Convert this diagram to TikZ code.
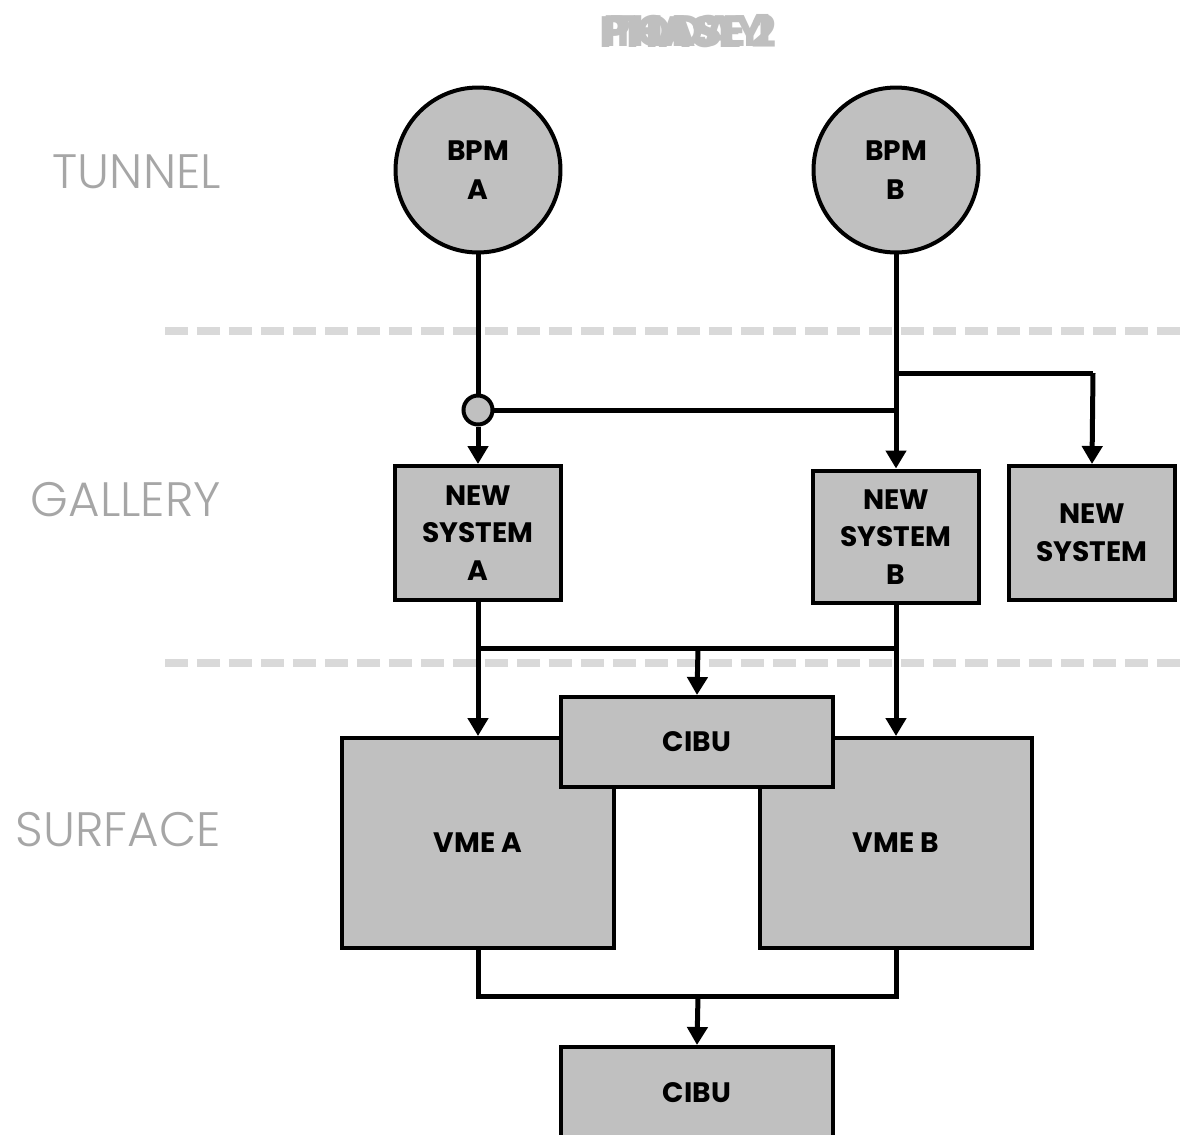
\documentclass[tikz,border=0pt]{standalone}
\usepackage{fontspec}
\setmainfont{Poppins}
\newfontfamily\lightfont{Poppins Light}
\usetikzlibrary{arrows.meta}
\definecolor{boxgray}{HTML}{C0C0C0}
\definecolor{dashgray}{HTML}{D9D9D9}
\definecolor{labgray}{HTML}{A6A6A6}
\definecolor{titlegray}{HTML}{BFBFBF}
\begin{document}
\begin{tikzpicture}[x=0.02cm,y=-0.02cm,
  box/.style={draw=black,line width=0.08cm,fill=boxgray,inner sep=0pt,
    font=\fontsize{16}{21.5}\selectfont\bfseries,align=center},
  bpm/.style={draw=black,line width=0.08cm,fill=boxgray,circle,inner sep=0pt,
    minimum size=3.3cm,font=\fontsize{16}{22.5}\selectfont\bfseries,align=center},
  conn/.style={line width=0.1cm,draw=black},
  arr/.style={conn,-{Triangle[length=0.36cm,width=0.4cm]}},
  zone/.style={anchor=east,text=labgray,font=\fontsize{27.5}{32}\selectfont\lightfont},
  sep/.style={line width=0.16cm,draw=dashgray,dash pattern=on 0.46cm off 0.18cm},
  ttl/.style={text=titlegray,font=\fontsize{25}{30}\selectfont\bfseries}]
\useasboundingbox (0,0) rectangle (1188,1134);
\clip (0,0) rectangle (1188,1134);
% title
\node[ttl] (t1) at (688,31) {TODAY};
\node[ttl] (t2) at (688,31) {PHASE 1};
\node[ttl] (t3) at (688,31) {PHASE 2};
% zone labels
\node[zone] (tun) at (227,172) {TUNNEL};
\node[zone] (gal) at (227,500) {GALLERY};
\node[zone] (sur) at (227,830) {SURFACE};
% separators
\draw[sep] (165,331) -- (1188,331);
\draw[sep] (165,663) -- (1188,663);
% nodes
\node[bpm] (bpma) at (478,170) {BPM\\A};
\node[bpm] (bpmb) at (896,170) {BPM\\B};
\node[box,minimum width=3.32cm,minimum height=2.68cm] (nsa) at (478,533) {NEW\\SYSTEM\\A};
\node[box,minimum width=3.32cm,minimum height=2.66cm] (nsb) at (896,537) {NEW\\SYSTEM\\B};
\node[box,minimum width=3.32cm,minimum height=2.68cm] (ns) at (1092,533) {NEW\\SYSTEM};
\node[box,minimum width=5.46cm,minimum height=4.2cm] (vmea) at (478,843) {VME A};
\node[box,minimum width=5.46cm,minimum height=4.2cm] (vmeb) at (896,843) {VME B};
\node[box,minimum width=5.44cm,minimum height=1.8cm] (cibu1) at (697,742) {CIBU};
\node[box,minimum width=5.44cm,minimum height=2.4cm,anchor=north] (cibu2) at (697,1045) {};
\node[font=\fontsize{16}{21.5}\selectfont\bfseries] (cibu2t) at (697,1093) {CIBU};
% splitter
\node[draw=black,line width=0.08cm,fill=boxgray,circle,inner sep=0pt,minimum size=0.58cm] (split) at (478,410) {};
% coordinates
\coordinate (jb) at (896,410);
\coordinate (jb2) at (896,373);
\coordinate (jr) at (1093,373);
\coordinate (ja) at (478,648);
\coordinate (jbb) at (896,648);
\coordinate (jm) at (698,648);
\coordinate (la) at (478,996);
\coordinate (lb) at (896,996);
\coordinate (lm) at (698,996);
% connectors
\draw[conn] (bpma.south) -- (split.north);
\draw[arr] (split.south) -- (nsa.north);
\draw[conn] (split.east) -- (jb);
\draw[arr] (bpmb.south) -- (nsb.north);
\draw[conn] (jb2) -- (jr);
\draw[arr] (jr) -- (ns.north);
\draw[conn] (nsa.south) -- (ja) -- (jbb);
\draw[conn] (nsb.south) -- (jbb);
\draw[arr] (ja) -- (vmea.north);
\draw[arr] (jbb) -- (vmeb.north);
\draw[arr] (jm) -- (cibu1.north);
\draw[conn] (vmea.south) -- (la) -- (lb) -- (vmeb.south);
\draw[arr] (lm) -- (cibu2.north);
\end{tikzpicture}
\end{document}
